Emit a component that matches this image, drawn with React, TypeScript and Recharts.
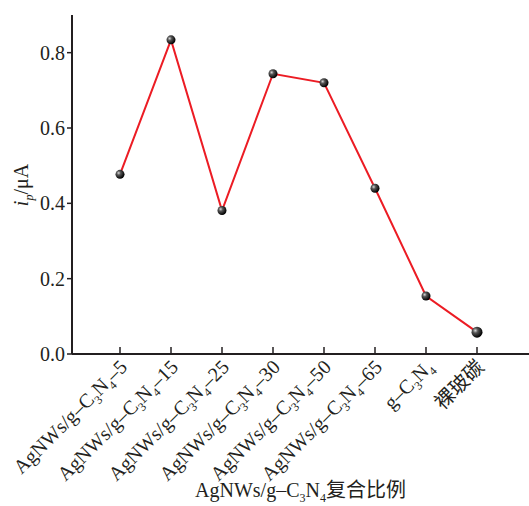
import { LineChart, Line, XAxis, YAxis } from "recharts";

const FONT = "'Liberation Serif', 'Noto Sans CJK SC', serif";
const INK = "#231f20";

// ratio labels: "5".."65" are AgNWs/g-C3N4-x composites, then g-C3N4 and bare glassy carbon
const categories = ["5", "15", "25", "30", "50", "65", "gcn", "gc"];
const values = [0.477, 0.834, 0.381, 0.744, 0.72, 0.44, 0.154, 0.058];
const yTicks = [0, 0.2, 0.4, 0.6, 0.8];

const data = categories.map((c, i) => ({ name: c, ip: values[i] }));

function Label({ id }: { id: string }) {
  const sub = { fontSize: 12, dy: 5 } as const;
  const back = { dy: -5 } as const;
  if (id === "gc") return <tspan>裸玻碳</tspan>;
  if (id === "gcn")
    return (
      <>
        <tspan>g–C</tspan>
        <tspan {...sub}>3</tspan>
        <tspan {...back}>N</tspan>
        <tspan {...sub}>4</tspan>
      </>
    );
  return (
    <>
      <tspan>AgNWs/g–C</tspan>
      <tspan {...sub}>3</tspan>
      <tspan {...back}>N</tspan>
      <tspan {...sub}>4</tspan>
      <tspan {...back}>–{id}</tspan>
    </>
  );
}

function XTick(props: any) {
  const { x, y, payload } = props;
  return (
    <g>
      <line x1={x} y1={y} x2={x} y2={y - 7} stroke={INK} strokeWidth={1.5} />
      <g transform={`translate(${x + 4},${y + 10}) rotate(-45)`}>
        <text textAnchor="end" fontSize={20} fontFamily={FONT} fill={INK} dy="0.3em">
          <Label id={payload.value} />
        </text>
      </g>
    </g>
  );
}

function Dot(props: any) {
  const { cx, cy, index } = props;
  const r = index === values.length - 1 ? 5.5 : 4.5;
  return <circle cx={cx} cy={cy} r={r} fill="url(#ball)" />;
}

export default function App() {
  return (
    <div style={{ position: "absolute", left: 0, top: 0, background: "#fff" }}>
      <LineChart width={529} height={506} data={data} margin={{ top: 15, right: 0, left: 0, bottom: 0 }}>
        <defs>
          <radialGradient id="ball" cx="35%" cy="35%" r="65%">
            <stop offset="0%" stopColor="#d8d8d8" />
            <stop offset="35%" stopColor="#555" />
            <stop offset="100%" stopColor="#000" />
          </radialGradient>
        </defs>
        <XAxis
          dataKey="name"
          height={152}
          padding={{ left: 48, right: 52 }}
          axisLine={{ stroke: INK, strokeWidth: 2 }}
          tickLine={false}
          tickSize={0}
          tickMargin={0}
          interval={0}
          tick={<XTick />}
          label={{
            content: (p: any) => (
              <text
                x={p.viewBox.x + p.viewBox.width / 2}
                y={p.viewBox.y + 143}
                textAnchor="middle"
                fontSize={20}
                fontFamily={FONT}
                fill={INK}
              >
                <tspan>AgNWs/g–C</tspan>
                <tspan fontSize={12} dy={5}>3</tspan>
                <tspan dy={-5}>N</tspan>
                <tspan fontSize={12} dy={5}>4</tspan>
                <tspan dy={-5}>复合比例</tspan>
              </text>
            ),
          }}
        />
        <YAxis
          width={72}
          domain={[0, 0.9]}
          ticks={yTicks}
          tickFormatter={(v: number) => v.toFixed(1)}
          axisLine={{ stroke: INK, strokeWidth: 2 }}
          tickLine={{ stroke: INK, strokeWidth: 1.5 }}
          tickSize={5}
          tickMargin={2}
          tick={{ fontSize: 20, fontFamily: FONT, fill: INK }}
          label={{
            content: (p: any) => (
              <text
                transform={`translate(28,${p.viewBox.y + 170}) rotate(-90)`}
                textAnchor="middle"
                fontSize={20}
                fontFamily={FONT}
                fill={INK}
              >
                <tspan fontStyle="italic">i</tspan>
                <tspan fontStyle="italic" fontSize={12} dy={5}>p</tspan>
                <tspan dy={-5}>/μA</tspan>
              </text>
            ),
          }}
        />
        <Line
          dataKey="ip"
          stroke="#ec1c24"
          strokeWidth={2}
          dot={<Dot />}
          activeDot={false}
          isAnimationActive={false}
        />
      </LineChart>
    </div>
  );
}
